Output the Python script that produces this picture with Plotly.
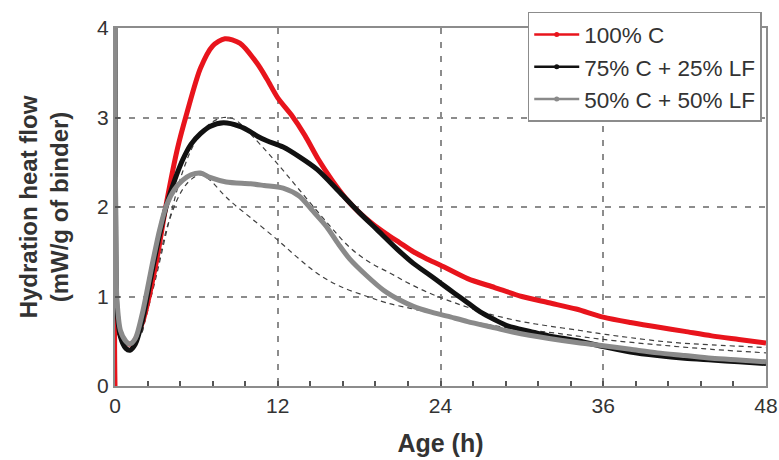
import plotly.graph_objects as go

# ---- data ----
x_c100 = [0, 0.03, 0.3, 0.7, 1.2, 2.0, 3.0, 3.8, 4.6, 5.3, 6.3, 7.2, 8.1, 9.2, 10.5, 11.2, 12.0, 13.0,
          14.0, 15.0, 16.0, 17.0, 18.0, 19.0, 20.0, 21.0, 22.0, 23.0, 24.0, 26.0, 28.0, 30.0, 32.0,
          34.0, 36.0, 38.0, 40.0, 42.0, 44.0, 46.0, 48.0]
y_c100 = [0.0, 0.78, 0.6, 0.5, 0.47, 0.7, 1.35, 2.05, 2.65, 3.05, 3.55, 3.8, 3.88, 3.83, 3.6, 3.43, 3.22, 3.03,
          2.8, 2.53, 2.3, 2.1, 1.94, 1.81, 1.7, 1.6, 1.5, 1.42, 1.35, 1.2, 1.1, 1.0, 0.93,
          0.86, 0.77, 0.71, 0.66, 0.61, 0.56, 0.52, 0.48]

x_c75 = [0, 0.03, 0.08, 0.15, 0.4, 0.8, 1.1, 1.5, 2.0, 2.8, 3.3, 3.8, 4.4, 5.0, 5.6, 6.3, 7.0, 8.0, 9.2,
         10.0, 10.5, 11.2, 12.4, 13.6, 14.9, 16.6, 18.0, 19.3, 20.8, 22.0, 23.2, 24.0, 25.0, 26.0,
         26.9, 28.0, 29.0, 30.6, 32.0, 34.3, 36.0, 38.0, 40.0, 42.0, 44.0, 46.0, 48.0]
y_c75 = [4.0, 2.5, 1.2, 0.85, 0.55, 0.42, 0.40, 0.47, 0.72, 1.33, 1.7, 2.02, 2.3, 2.53, 2.7, 2.82, 2.9, 2.94, 2.9,
         2.84, 2.79, 2.74, 2.67, 2.56, 2.42, 2.16, 1.94, 1.75, 1.53, 1.37, 1.24, 1.15, 1.04, 0.93,
         0.83, 0.74, 0.67, 0.61, 0.56, 0.5, 0.44, 0.38, 0.34, 0.31, 0.29, 0.27, 0.25]

x_c50 = [0, 0.03, 0.08, 0.15, 0.4, 0.8, 1.1, 1.5, 2.0, 2.8, 3.3, 3.8, 4.4, 5.0, 5.6, 6.3, 7.0, 8.2, 10.0,
         11.0, 12.4, 13.6, 14.5, 15.6, 16.5, 17.3, 18.5, 19.8, 21.0, 22.0, 23.2, 24.5, 26.0, 28.0,
         29.4, 32.0, 34.3, 36.0, 38.0, 40.0, 42.0, 44.0, 46.0, 48.0]
y_c50 = [4.0, 2.5, 1.3, 0.95, 0.62, 0.5, 0.47, 0.53, 0.8, 1.4, 1.75, 2.02, 2.2, 2.3, 2.36, 2.38, 2.33, 2.28, 2.26,
         2.24, 2.21, 2.12, 1.97, 1.78, 1.58, 1.42, 1.24, 1.07, 0.96, 0.89, 0.83, 0.78, 0.72, 0.65,
         0.6, 0.53, 0.48, 0.45, 0.41, 0.37, 0.34, 0.31, 0.29, 0.27]

x_fit75 = [2.0, 3.0, 4.0, 5.0, 6.0, 7.0, 8.0, 8.8, 9.7, 10.7, 12.0, 13.6, 15.5, 17.3, 18.8, 20.3, 21.5,
           23.0, 24.5, 26.0, 27.7, 30.0, 32.0, 34.3, 36.0, 38.0, 40.9, 44.0, 48.0]
y_fit75 = [0.6, 1.2, 1.85, 2.4, 2.75, 2.93, 3.0, 2.98, 2.86, 2.7, 2.48, 2.19, 1.85, 1.55, 1.38, 1.26, 1.16,
           1.05, 0.96, 0.88, 0.8, 0.72, 0.67, 0.62, 0.58, 0.54, 0.49, 0.46, 0.43]

x_fit50 = [2.0, 3.0, 4.0, 5.0, 5.8, 6.3, 7.0, 8.0, 8.7, 10.0, 12.0, 13.5, 14.9, 16.5, 18.6, 20.0, 22.3,
           24.9, 27.0, 29.4, 32.0, 34.0, 36.0, 40.0, 44.0, 48.0]
y_fit50 = [0.6, 1.25, 1.85, 2.2, 2.33, 2.36, 2.3, 2.14, 2.04, 1.88, 1.63, 1.43, 1.26, 1.12, 1.0, 0.93, 0.85,
           0.76, 0.7, 0.64, 0.6, 0.56, 0.52, 0.46, 0.41, 0.37]

names = ["100% C", "75% C + 25% LF", "50% C + 50% LF"]
colors = ["#e8141c", "#111111", "#8a8a8a"]
x_ticks = [0, 12, 24, 36, 48]
y_ticks = [0, 1, 2, 3, 4]

fig = go.Figure()

# model fits (thin dashed)
for xs, ys in [(x_fit75, y_fit75), (x_fit50, y_fit50)]:
    fig.add_trace(go.Scatter(x=xs, y=ys, mode="lines", showlegend=False, hoverinfo="skip",
                             line=dict(color="#404040", width=1.2, dash="5px,4px", shape="spline")))

# measured curves
for xs, ys, c in [(x_c100, y_c100, colors[0]), (x_c75, y_c75, colors[1]), (x_c50, y_c50, colors[2])]:
    fig.add_trace(go.Scatter(x=xs, y=ys, mode="lines", showlegend=False,
                             line=dict(color=c, width=5, shape="spline", smoothing=0.8)))

# legend entries
for n, c in zip(names, colors):
    fig.add_trace(go.Scatter(x=[None], y=[None], mode="lines+markers", name=n,
                             line=dict(color=c, width=2.5), marker=dict(color=c, size=5)))

axis_common = dict(
    showgrid=True, griddash="6px,8px", gridcolor="#8c8c8c", gridwidth=1.5,
    zeroline=False, showline=True, mirror=True, linecolor="#8c8c8c", linewidth=2,
    ticks="inside", ticklen=5, tickcolor="#555", tickwidth=1.5, automargin=False,
    tickfont=dict(family="Liberation Sans, Arial, sans-serif", size=21, color="#333"),
)

fig.update_layout(
    width=779, height=460,
    margin=dict(l=115, r=13, t=28, b=74),
    paper_bgcolor="white", plot_bgcolor="white",
    font=dict(family="Liberation Sans, Arial, sans-serif", color="#333"),
    xaxis=dict(range=[0, 48], tickvals=x_ticks, ticktext=[str(v) for v in x_ticks],
               title=dict(text="<b>Age (h)</b>", font=dict(size=25, color="#333"), standoff=18),
               minor=dict(dtick=2.4, ticks="inside", ticklen=5, tickcolor="#555", showgrid=False),
               **axis_common),
    yaxis=dict(range=[0, 4], tickvals=y_ticks, ticktext=[str(v) for v in y_ticks],
               title=dict(text="<b>Hydration heat flow<br>(mW/g of binder)</b>",
                          font=dict(size=24, color="#333"), standoff=22),
               **axis_common),
    legend=dict(x=0.634, y=1.045, xanchor="left", yanchor="top",
                bgcolor="white", bordercolor="#8c8c8c", borderwidth=1.5,
                font=dict(family="Liberation Sans, Arial, sans-serif", size=22.5, color="#333"),
                itemwidth=45, tracegroupgap=0),
)

fig.write_html("out.html", config={"displayModeBar": False},
               post_script="document.body.style.margin='0';document.body.style.overflow='hidden';")
